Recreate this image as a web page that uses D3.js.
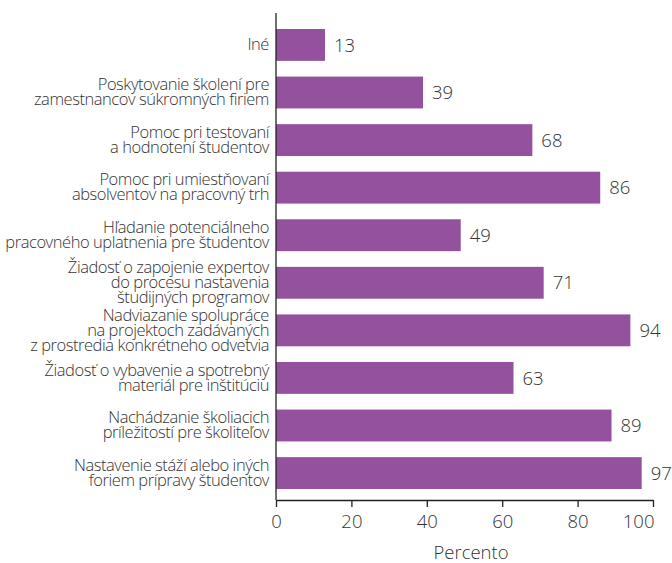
<!DOCTYPE html>
<html>
<head>
<meta charset="utf-8">
<script src="https://cdn.jsdelivr.net/npm/d3@7"></script>
<style>
  html, body { margin: 0; padding: 0; background: #fff; }
  svg text { font-family: "Open Sans", "Noto Sans", sans-serif; font-weight: 300; fill: #333; }
</style>
</head>
<body>
<svg id="chart" width="672" height="563"></svg>
<script>
// Categories (top to bottom), each split into its display lines
const categories = [
  ["Iné"],
  ["Poskytovanie školení pre", "zamestnancov súkromných firiem"],
  ["Pomoc pri testovaní", "a hodnotení študentov"],
  ["Pomoc pri umiestňovaní", "absolventov na pracovný trh"],
  ["Hľadanie potenciálneho", "pracovného uplatnenia pre študentov"],
  ["Žiadosť o zapojenie expertov", "do procesu nastavenia", "študijných programov"],
  ["Nadviazanie spolupráce", "na projektoch zadávaných", "z prostredia konkrétneho odvetvia"],
  ["Žiadosť o vybavenie a spotrebný", "materiál pre inštitúciu"],
  ["Nachádzanie školiacich", "príležitostí pre školiteľov"],
  ["Nastavenie stáží alebo iných", "foriem prípravy študentov"]
];
const values = [13, 39, 68, 86, 49, 71, 94, 63, 89, 97];
const xTicks = [0, 20, 40, 60, 80, 100];
const xTitle = "Percento";

const svg = d3.select("#chart");
const plotLeft = 276, plotRight = 653, plotTop = 18, plotBottom = 500;

const x = d3.scaleLinear().domain([0, 100]).range([plotLeft, plotRight]);
const y = d3.scaleBand()
  .domain(d3.range(categories.length))
  .range([plotTop, plotBottom])
  .paddingInner(0.33)
  .paddingOuter(0.231);

// Bars
svg.append("g").selectAll("rect")
  .data(values)
  .join("rect")
  .attr("x", x(0))
  .attr("y", (d, i) => y(i))
  .attr("width", d => x(d) - x(0))
  .attr("height", y.bandwidth())
  .attr("fill", "#94529E");

// Value labels
svg.append("g").selectAll("text")
  .data(values)
  .join("text")
  .attr("x", d => x(d) + 9)
  .attr("y", (d, i) => y(i) + y.bandwidth() / 2)
  .attr("dy", "0.36em")
  .style("font-size", "18.5px")
  .text(d => d);

// Category labels (multi-line, right-aligned, vertically centred on the bar)
const lineH = 15;
const labels = svg.append("g").selectAll("text")
  .data(categories)
  .join("text")
  .attr("text-anchor", "end")
  .attr("x", plotLeft - 7)
  .attr("y", (d, i) => y(i) + y.bandwidth() / 2)
  .style("font-size", "16.5px")
  .style("letter-spacing", "-0.45px");
labels.each(function(lines) {
  const t = d3.select(this);
  const y0 = +t.attr("y");
  lines.forEach((ln, k) => {
    t.append("tspan")
      .attr("x", plotLeft - 7)
      .attr("y", y0 + (k - (lines.length - 1) / 2) * lineH)
      .attr("dy", "0.32em")
      .text(ln);
  });
});

// Left axis line
svg.append("line")
  .attr("x1", plotLeft).attr("x2", plotLeft)
  .attr("y1", 13).attr("y2", plotBottom)
  .attr("stroke", "#222").attr("stroke-width", 1.3);

// Bottom axis
const xAxis = svg.append("g")
  .attr("transform", `translate(0,${plotBottom})`)
  .call(d3.axisBottom(x).tickValues(xTicks).tickSize(7).tickPadding(8).tickSizeOuter(0));
xAxis.select(".domain").attr("stroke", "#222").attr("stroke-width", 1.3);
xAxis.selectAll(".tick line").attr("stroke", "#222").attr("stroke-width", 1.3);
xAxis.selectAll(".tick text")
  .style("font-size", "18.5px")
  .style("font-family", "'Open Sans', 'Noto Sans', sans-serif")
  .style("font-weight", 300)
  .attr("fill", "#333")
  // the last label sits flush against the end of the axis
  .attr("text-anchor", d => d === xTicks[xTicks.length - 1] ? "end" : "middle")
  .attr("dx", d => d === xTicks[xTicks.length - 1] ? "1px" : 0);

// Axis title
svg.append("text")
  .attr("x", 471)
  .attr("y", 553)
  .attr("dy", "0.35em")
  .attr("text-anchor", "middle")
  .style("font-size", "18.5px")
  .text(xTitle);
</script>
</body>
</html>
